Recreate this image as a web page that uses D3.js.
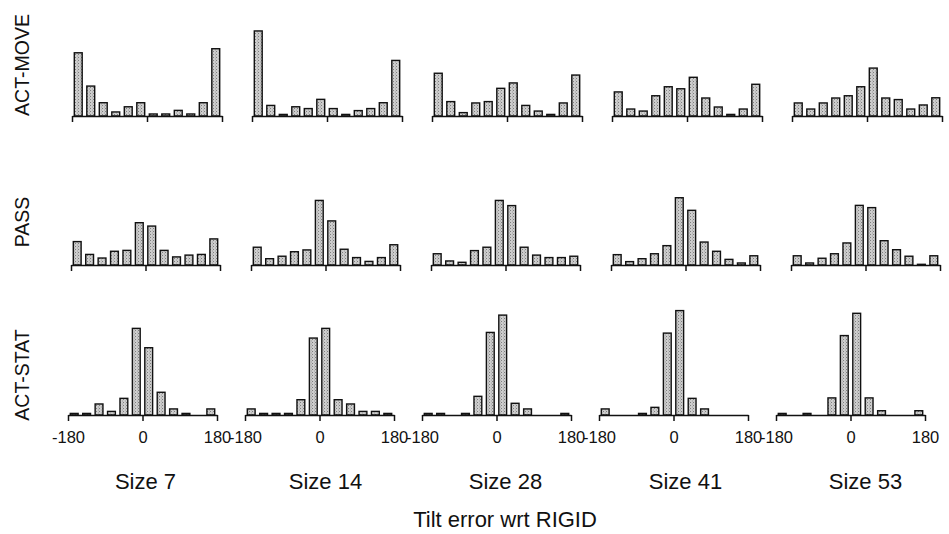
<!DOCTYPE html>
<html>
<head>
<meta charset="utf-8">
<script src="https://cdn.jsdelivr.net/npm/d3@7"></script>
<style>
  body { margin: 0; background: #fff; }
  svg text { font-family: "Liberation Sans", Arial, sans-serif; fill: #111; }
</style>
</head>
<body>
<svg id="chart" width="949" height="534"></svg>
<script>
// percent of trials per 30 deg bin, from -180 to 180
const conditions = ["ACT-MOVE", "PASS", "ACT-STAT"];
const sizes = ["Size 7", "Size 14", "Size 28", "Size 41", "Size 53"];
const binEdges = [-180, -150, -120, -90, -60, -30, 0, 30, 60, 90, 120, 150, 180];
const tickValues = [-180, 0, 180];

const actMove = [
  [28.1, 13.3, 5.9, 1.8, 4.1, 5.9, 0.9, 0.9, 2.5, 0.9, 5.9, 29.9],
  [37.8, 4.7, 0.7, 4.1, 3.3, 7.4, 3.3, 0.7, 2.4, 3.3, 5.9, 24.7],
  [19.0, 6.4, 1.5, 5.8, 6.4, 12.3, 14.7, 4.7, 2.2, 0.7, 5.8, 18.2],
  [10.7, 3.1, 2.2, 9.0, 13.0, 12.1, 17.2, 8.0, 4.0, 0.7, 3.1, 14.1],
  [5.8, 3.1, 5.8, 8.0, 9.0, 13.0, 21.3, 8.0, 7.3, 3.1, 4.9, 8.1]
];
const pass = [
  [10.4, 4.7, 3.1, 6.1, 6.5, 18.8, 17.3, 6.5, 3.6, 4.4, 4.7, 11.6],
  [7.9, 2.8, 3.9, 5.9, 6.7, 28.7, 19.6, 7.0, 3.3, 1.6, 3.3, 9.0],
  [5.0, 1.8, 1.2, 6.4, 7.9, 28.7, 26.4, 7.9, 4.4, 3.3, 3.3, 3.9],
  [4.6, 1.5, 2.8, 5.0, 8.6, 29.9, 24.3, 10.2, 6.1, 2.5, 0.9, 4.1],
  [4.1, 0.9, 3.0, 5.0, 9.8, 26.5, 25.5, 10.8, 6.8, 3.9, 0.3, 4.1]
];
const actStat = [
  [0.7, 0.7, 4.9, 1.6, 7.4, 38.5, 29.9, 10.1, 2.7, 0.7, 0, 2.7],
  [2.7, 0.7, 0.7, 0.7, 6.8, 34.2, 38.5, 6.8, 4.9, 1.6, 1.6, 0.7],
  [0.7, 0.7, 0, 0.7, 8.3, 36.7, 44.4, 5.2, 2.7, 0, 0, 0.7],
  [2.7, 0, 0, 0.7, 3.4, 36.4, 46.4, 7.4, 2.7, 0, 0, 0],
  [0.7, 0, 0.7, 0, 7.6, 35.3, 45.2, 7.6, 1.9, 0, 0, 1.9]
];
const rowData = [actMove, pass, actStat];

const svg = d3.select("#chart");

// the scanned original is slightly skewed, so each row has its own grid
const rowLayout = [
	{left: 72, step: 180, width: 150, base: 116},
	{left: 71, step: 180, width: 149, base: 265},
	{left: 68, step: 177, width: 149, base: 415}
];
const rowLabelY = [65, 222, 375];

const yScale = d3.scaleLinear().domain([0, 100]).range([0, 225]);

// stippled grey fill
const defs = svg.append("defs");
const pat = defs.append("pattern").attr("id", "stipple")
	.attr("patternUnits", "userSpaceOnUse").attr("width", 3).attr("height", 3);
pat.append("rect").attr("width", 3).attr("height", 3).attr("fill", "#cdcdcd");
pat.append("rect").attr("x", 0).attr("y", 0).attr("width", 1).attr("height", 1).attr("fill", "#7e7e7e");
pat.append("rect").attr("x", 2).attr("y", 1.5).attr("width", 1).attr("height", 1).attr("fill", "#a0a0a0");

rowData.forEach(function(panels, r){
	let lay = rowLayout[r];
	panels.forEach(function(values, c){
		let x0 = lay.left + c * lay.step,
			x = d3.scaleLinear().domain([-180, 180]).range([x0, x0 + lay.width]),
			base = lay.base,
			bins = values.map(function(v, i){ return {lo: binEdges[i], hi: binEdges[i + 1], v: v}; }),
			g = svg.append("g").attr("class", "panel");

		g.selectAll("rect.bar")
			.data(bins.filter(function(d){ return d.v > 0; }))
			.enter().append("rect")
			.attr("class", "bar")
			.attr("x", function(d){ return x(d.lo) + 2.3; })
			.attr("width", function(d){ return x(d.hi) - x(d.lo) - 4.6; })
			.attr("y", function(d){ return base - yScale(d.v); })
			.attr("height", function(d){ return yScale(d.v); })
			.attr("fill", "url(#stipple)")
			.attr("stroke", "#111")
			.attr("stroke-width", 1.4);

		let axis = d3.axisBottom(x).tickValues(tickValues).tickSize(6).tickSizeOuter(0)
			.tickFormat(r === 2 ? function(d){ return String(d); } : "");
		let ax = g.append("g").attr("transform", "translate(0," + base + ")").call(axis);
		ax.select(".domain").attr("stroke", "#111").attr("stroke-width", 1.5);
		ax.selectAll(".tick line").attr("stroke", "#111").attr("stroke-width", 1.5);
		ax.selectAll(".tick text")
			.attr("font-size", 16.5)
			.attr("y", 28)
			.attr("dy", 0)
			.style("font-family", "'Liberation Sans', Arial, sans-serif")
			.attr("fill", "#111");
	});
});

// row labels
svg.selectAll("text.rowlabel")
	.data(conditions)
	.enter().append("text")
	.attr("class", "rowlabel")
	.attr("transform", function(d, i){ return "translate(29," + rowLabelY[i] + ") rotate(-90)"; })
	.attr("text-anchor", "middle")
	.attr("font-size", 19.5)
	.text(function(d){ return d; });

// column labels
svg.selectAll("text.collabel")
	.data(sizes)
	.enter().append("text")
	.attr("class", "collabel")
	.attr("x", function(d, i){ return rowLayout[1].left + i * rowLayout[1].step + rowLayout[1].width / 2; })
	.attr("y", 489)
	.attr("text-anchor", "middle")
	.attr("font-size", 22)
	.text(function(d){ return d; });

svg.append("text")
	.attr("x", 505)
	.attr("y", 527)
	.attr("text-anchor", "middle")
	.attr("font-size", 22)
	.text("Tilt error wrt RIGID");
</script>
</body>
</html>
